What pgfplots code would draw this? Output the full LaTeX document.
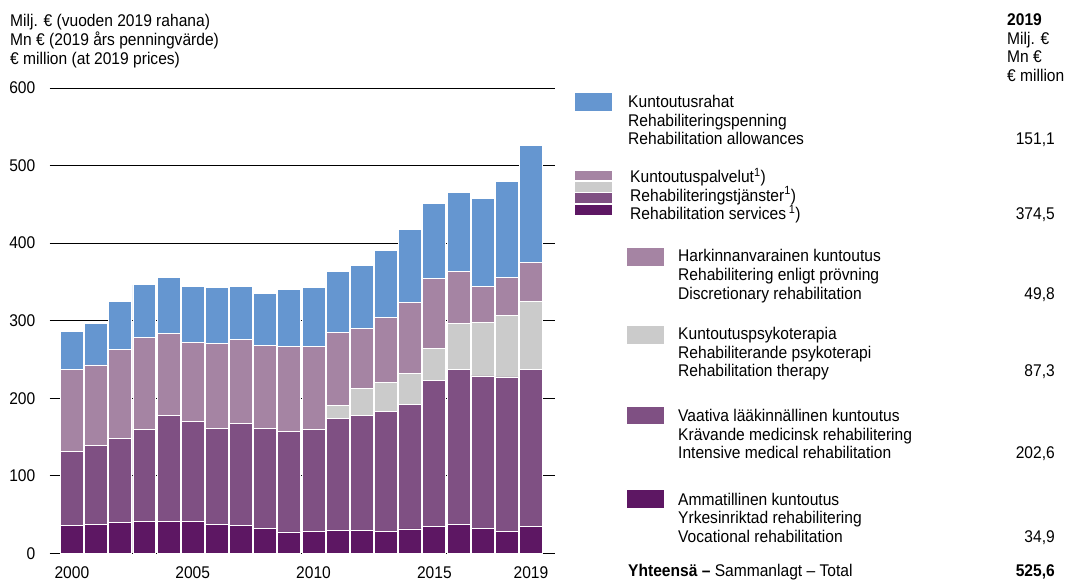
\documentclass[border=0pt]{standalone}
\usepackage{pgfplots}
\pgfplotsset{compat=1.18}
\usepackage{pgfplotstable}
\usepackage{fontspec}
\setmainfont{Liberation Sans}[FakeStretch=0.92]

\definecolor{cAllow}{HTML}{6596D0}
\definecolor{cDisc}{HTML}{A584A3}
\definecolor{cTher}{HTML}{CBCBCB}
\definecolor{cInt}{HTML}{7F5083}
\definecolor{cVoc}{HTML}{5D1763}

\pgfplotstableread{
year voc int ther disc allow
2000 36.0  95.5  0.0 105.5  49.7
2001 37.3 102.0  0.0 103.7  53.5
2002 39.9 108.8  0.0 114.0  61.7
2003 41.5 118.7  0.0 117.9  68.2
2004 41.5 136.7  0.0 105.1  72.4
2005 41.1 129.0  0.0 102.0  72.5
2006 37.7 123.8  0.0 108.9  72.0
2007 36.0 131.2  0.0 108.8  68.6
2008 32.5 128.6  0.0 107.6  66.4
2009 27.8 129.1  0.0 109.7  73.6
2010 28.8 131.5  0.0 106.7  76.2
2011 29.2 144.8 16.7  94.6  77.7
2012 29.2 149.1 34.3  77.5  81.4
2013 28.8 154.6 36.9  83.6  86.8
2014 31.7 160.7 39.5  91.6  93.9
2015 34.7 188.6 41.1  90.4  96.0
2016 37.8 199.2 59.9  66.5 102.4
2017 32.6 196.2 69.4  46.3 113.6
2018 27.9 199.6 79.7  48.5 124.3
2019 34.9 202.6 87.3  49.8 151.1
}\data

\newcommand\fs{\fontsize{17}{19}\selectfont}

\begin{document}
\begin{tikzpicture}[font=\fs]
\path[use as bounding box] (0bp,0bp) rectangle (1068bp,584bp);
\begin{axis}[
  at={(49.5bp,30.5bp)}, anchor=south west,
  scale only axis, width=505bp, height=465.5bp,
  xmin=1999.073, xmax=2019.973, ymin=0, ymax=600,
  ybar stacked, bar width=0.95,
  axis line style={draw=none},
  ytick={0,100,...,600},
  xtick={2000,2005,2010,2015,2019},
  ymajorgrids, grid style={black, line width=1bp},
  major tick length=0pt, tick style={draw=none},
  /pgf/number format/assume math mode=true,
  xticklabel style={font=\fs, anchor=north, inner sep=0pt, yshift=-13bp, /pgf/number format/1000 sep={}},
  yticklabel style={font=\fs, anchor=east, inner sep=0pt, xshift=-14bp},
  clip=false,
]
\addplot[fill=cVoc, draw=white, line width=0.8bp] table[x=year,y=voc] {\data};
\addplot[fill=cInt, draw=white, line width=0.8bp] table[x=year,y=int] {\data};
\addplot[fill=cTher, draw=white, line width=0.8bp] table[x=year,y=ther] {\data};
\addplot[fill=cDisc, draw=white, line width=0.8bp] table[x=year,y=disc] {\data};
\addplot[fill=cAllow, draw=white, line width=0.8bp] table[x=year,y=allow] {\data};
\end{axis}

\begin{scope}[x=1bp,y=1bp]
% top-left unit text
\node[anchor=base west, inner sep=0pt] at (10,584-26.5) {Milj. € (vuoden 2019 rahana)};
\node[anchor=base west, inner sep=0pt] at (10,584-45.5) {Mn € (2019 års penningvärde)};
\node[anchor=base west, inner sep=0pt] at (10,584-64.3) {€ million (at 2019 prices)};

% top-right header
\node[anchor=base west, inner sep=0pt] at (1007,584-26) {\bfseries 2019};
\node[anchor=base west, inner sep=0pt] at (1007,584-44.5) {Milj. €};
\node[anchor=base west, inner sep=0pt] at (1007,584-63) {Mn €};
\node[anchor=base west, inner sep=0pt] at (1007,584-81.7) {€ million};

% legend 1: allowances
\fill[cAllow] (575,584-93) rectangle (612,584-111);
\node[anchor=base west, inner sep=0pt] at (628,584-107.7) {Kuntoutusrahat};
\node[anchor=base west, inner sep=0pt] at (628,584-126.7) {Rehabiliteringspenning};
\node[anchor=base west, inner sep=0pt] at (628,584-145) {Rehabilitation allowances};
\node[anchor=base east, inner sep=0pt] at (1055,584-145) {151,1};

% legend 2: services
\fill[cDisc] (575,584-171) rectangle (612,584-180.5);
\fill[cTher] (575,584-182) rectangle (612,584-192);
\fill[cInt]  (575,584-193.5) rectangle (612,584-203);
\fill[cVoc]  (575,584-205) rectangle (612,584-215);
\node[anchor=base west, inner sep=0pt] at (630,584-182.3) {Kuntoutuspalvelut\textsuperscript{1})};
\node[anchor=base west, inner sep=0pt] at (630,584-201) {Rehabiliteringstjänster\textsuperscript{1})};
\node[anchor=base west, inner sep=0pt] at (630,584-219.3) {Rehabilitation services\,\textsuperscript{1})};
\node[anchor=base east, inner sep=0pt] at (1055,584-219.3) {374,5};

% legend 3: discretionary
\fill[cDisc] (627,584-248) rectangle (664,584-266);
\node[anchor=base west, inner sep=0pt] at (678,584-261.7) {Harkinnanvarainen kuntoutus};
\node[anchor=base west, inner sep=0pt] at (678,584-280.7) {Rehabilitering enligt prövning};
\node[anchor=base west, inner sep=0pt] at (678,584-299) {Discretionary rehabilitation};
\node[anchor=base east, inner sep=0pt] at (1055,584-299) {49,8};

% legend 4: therapy
\fill[cTher] (627,584-326) rectangle (664,584-344);
\node[anchor=base west, inner sep=0pt] at (678,584-339.3) {Kuntoutuspsykoterapia};
\node[anchor=base west, inner sep=0pt] at (678,584-358.3) {Rehabiliterande psykoterapi};
\node[anchor=base west, inner sep=0pt] at (678,584-376.7) {Rehabilitation therapy};
\node[anchor=base east, inner sep=0pt] at (1055,584-376.7) {87,3};

% legend 5: intensive
\fill[cInt] (627,584-407.5) rectangle (664,584-424.5);
\node[anchor=base west, inner sep=0pt] at (678,584-421) {Vaativa lääkinnällinen kuntoutus};
\node[anchor=base west, inner sep=0pt] at (678,584-440) {Krävande medicinsk rehabilitering};
\node[anchor=base west, inner sep=0pt] at (678,584-458.7) {Intensive medical rehabilitation};
\node[anchor=base east, inner sep=0pt] at (1055,584-458.7) {202,6};

% legend 6: vocational
\fill[cVoc] (627,584-490) rectangle (664,584-508);
\node[anchor=base west, inner sep=0pt] at (678,584-505) {Ammatillinen kuntoutus};
\node[anchor=base west, inner sep=0pt] at (678,584-523.3) {Yrkesinriktad rehabilitering};
\node[anchor=base west, inner sep=0pt] at (678,584-542.7) {Vocational rehabilitation};
\node[anchor=base east, inner sep=0pt] at (1055,584-542.7) {34,9};

% total
\node[anchor=base west, inner sep=0pt] at (628,584-576.7) {\textbf{Yhteensä –} Sammanlagt – Total};
\node[anchor=base east, inner sep=0pt] at (1055,584-576.7) {\textbf{525,6}};
\end{scope}
\end{tikzpicture}
\end{document}
